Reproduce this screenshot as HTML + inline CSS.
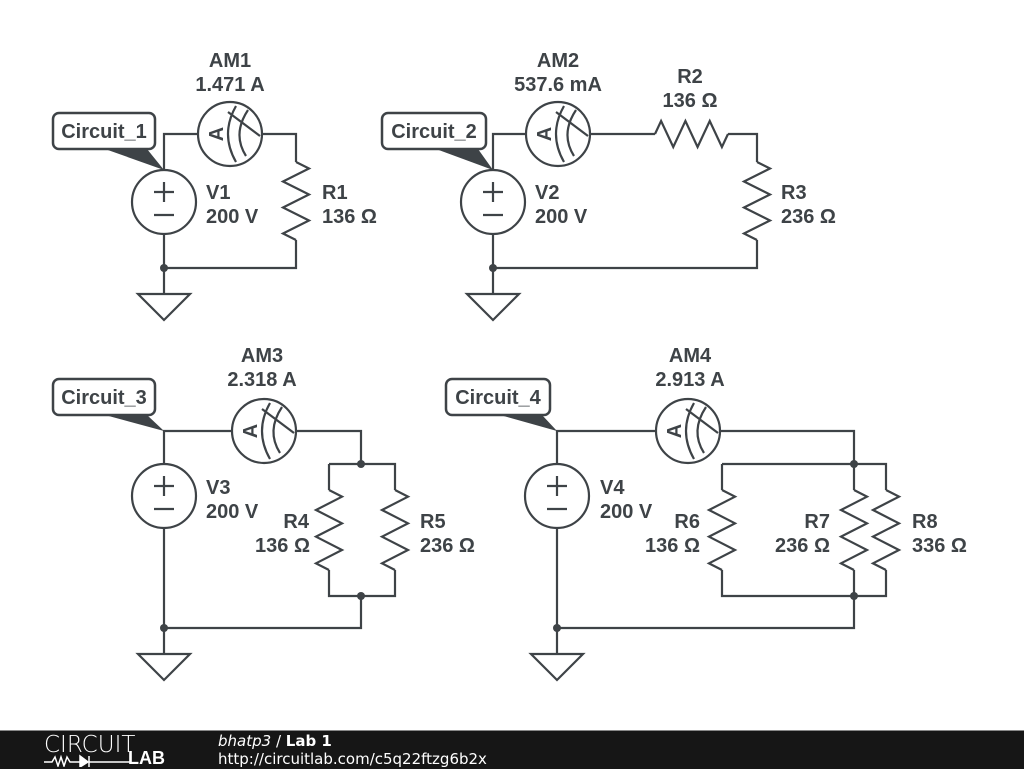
<!DOCTYPE html>
<html><head><meta charset="utf-8"><style>
body{margin:0;width:1024px;height:768px;background:#fff;overflow:hidden;font-family:"Liberation Sans",sans-serif}
svg text{font-family:"Liberation Sans",sans-serif;font-weight:bold;font-size:20px;fill:#3e4347}
#bar{position:absolute;left:0;top:730px;width:1024px;height:38px;background:#161616;border-top:1px solid #888}
</style></head><body>
<svg id="s" width="1024" height="730" style="position:absolute;left:0;top:0" stroke="#3e4347" stroke-width="2.2" fill="none">
<g id="g"></g>
<text x="230" y="67" text-anchor="middle" stroke="none">AM1</text>
<text x="230" y="91" text-anchor="middle" stroke="none">1.471 A</text>
<text x="206" y="199" stroke="none">V1</text><text x="206" y="223" stroke="none">200 V</text>
<text x="322" y="199" stroke="none">R1</text><text x="322" y="223" stroke="none">136 Ω</text>
<text x="558" y="67" text-anchor="middle" stroke="none">AM2</text>
<text x="558" y="91" text-anchor="middle" stroke="none">537.6 mA</text>
<text x="690" y="83" text-anchor="middle" stroke="none">R2</text>
<text x="690" y="107" text-anchor="middle" stroke="none">136 Ω</text>
<text x="535" y="199" stroke="none">V2</text><text x="535" y="223" stroke="none">200 V</text>
<text x="781" y="199" stroke="none">R3</text><text x="781" y="223" stroke="none">236 Ω</text>
<text x="262" y="362" text-anchor="middle" stroke="none">AM3</text>
<text x="262" y="386" text-anchor="middle" stroke="none">2.318 A</text>
<text x="206" y="494" stroke="none">V3</text><text x="206" y="518" stroke="none">200 V</text>
<text x="309" y="528" text-anchor="end" stroke="none">R4</text><text x="310" y="552" text-anchor="end" stroke="none">136 Ω</text>
<text x="420" y="528" stroke="none">R5</text><text x="420" y="552" stroke="none">236 Ω</text>
<text x="690" y="362" text-anchor="middle" stroke="none">AM4</text>
<text x="690" y="386" text-anchor="middle" stroke="none">2.913 A</text>
<text x="600" y="494" stroke="none">V4</text><text x="600" y="518" stroke="none">200 V</text>
<text x="700" y="528" text-anchor="end" stroke="none">R6</text><text x="700" y="552" text-anchor="end" stroke="none">136 Ω</text>
<text x="830" y="528" text-anchor="end" stroke="none">R7</text><text x="830" y="552" text-anchor="end" stroke="none">236 Ω</text>
<text x="912" y="528" stroke="none">R8</text><text x="912" y="552" stroke="none">336 Ω</text>
</svg>
<div id="bar">
<div style="position:absolute;left:44px;top:1px;color:#fff;font:300 23px 'DejaVu Sans',sans-serif;letter-spacing:0px">CIRCUIT</div>
<svg style="position:absolute;left:44px;top:22px" width="90" height="14" stroke="#fff" fill="#fff" stroke-width="1.5"><path d="M0 9H8L11 4L14 13L17 4L20 13L23 4L26 9H36" fill="none"/><path d="M36 3L44 9L36 14Z"/><path d="M45 3V14M45 9H86" fill="none"/></svg>
<div style="position:absolute;left:128px;top:17px;color:#fff;font:bold 18px 'Liberation Sans',sans-serif">LAB</div>
<div style="position:absolute;left:218px;top:1px;color:#fff;font:15px 'DejaVu Sans',sans-serif"><i>bhatp3</i> / <b>Lab 1</b></div>
<div style="position:absolute;left:218px;top:19px;color:#fff;font:15px 'DejaVu Sans',sans-serif">http://circuitlab.com/c5q22ftzg6b2x</div>
</div>
<script>
var h='';
function L(d){h+='<path d="'+d+'"/>';}
function dot(x,y){h+='<circle cx="'+x+'" cy="'+y+'" r="4" fill="#3e4347" stroke="none"/>';}
function V(x,y){h+='<circle cx="'+x+'" cy="'+y+'" r="32"/>';L('M'+(x-10)+' '+(y-10)+'h20M'+x+' '+(y-20)+'v20M'+(x-10)+' '+(y+13)+'h20');}
function G(x,y){L('M'+x+' '+y+'v26M'+(x-26)+' '+(y+26)+'h52L'+x+' '+(y+52)+'Z');}
function A(x,y){h+='<circle cx="'+x+'" cy="'+y+'" r="32"/>';
 h+='<text x="0" y="0" transform="translate('+(x-14)+','+y+') rotate(-90)" text-anchor="middle" dy="7" font-size="21" stroke="none">A</text>';
 L('M'+(x+6)+' '+(y+28)+'Q'+(x-10)+' '+y+' '+(x+6)+' '+(y-28));
 L('M'+(x+16)+' '+(y+22)+'Q'+(x+2)+' '+y+' '+(x+18)+' '+(y-24));
 L('M'+(x-2)+' '+(y-22)+'L'+(x+30)+' '+(y+2));}
function RV(x,y0,y1){var l=y1-y0,s=l/12,d='M'+x+' '+y0;
 var pts=[[13,1],[-13,3],[13,5],[-13,7],[13,9],[-13,11],[0,12]];
 pts.forEach(function(p){d+='L'+(x+p[0])+' '+(y0+p[1]*s);});L(d);}
function RH(y,x0,x1){var s=(x1-x0)/12,d='M'+x0+' '+y;
 [[-13,1],[13,3],[-13,5],[13,7],[-13,9],[13,11],[0,12]].forEach(function(p){d+='L'+(x0+p[1]*s)+' '+(y+p[0]);});L(d);}
function tag(x,y,w,t,px,py){h+='<rect x="'+x+'" y="'+y+'" width="'+w+'" height="36" rx="6" fill="#fff" stroke-width="2.5"/>';
 h+='<path d="M'+(x+w-50)+' '+(y+36)+'L'+px+' '+py+'L'+(x+w-8)+' '+(y+36)+'Z" fill="#3e4347" stroke="none"/>';
 h+='<text x="'+(x+w/2)+'" y="'+(y+25)+'" text-anchor="middle" stroke="none">'+t+'</text>';}
L('M164 170V134H198M262 134H296V162M296 240V268H164V234');RV(296,162,240);V(164,202);A(230,134);dot(164,268);G(164,268);
tag(53,113,102,'Circuit_1',164,170);
L('M493 170V134H526M590 134H655M728 134H757V162M757 240V268H493V234');RH(134,655,728);RV(757,162,240);V(493,202);A(558,134);dot(493,268);G(493,268);
tag(382,113,104,'Circuit_2',493,170);
L('M164 464V431H232M296 431H361V464M329 464H395V490M329 464V490M329 570V596H395V570M361 596V628H164V528');
RV(329,490,570);RV(395,490,570);V(164,496);A(264,431);dot(361,464);dot(361,596);dot(164,628);G(164,628);
tag(53,379,102,'Circuit_3',164,431);
L('M557 464V431H656M720 431H854V464M722 464H886V490M722 464V490M854 464V490M722 570V596H886V570M854 570V596M854 596V628H557V528');
RV(722,490,570);RV(854,490,570);RV(886,490,570);V(557,496);A(688,431);dot(854,464);dot(854,596);dot(557,628);G(557,628);
tag(446,379,104,'Circuit_4',557,431);
document.getElementById('g').innerHTML=h;
</script>
</body></html>
